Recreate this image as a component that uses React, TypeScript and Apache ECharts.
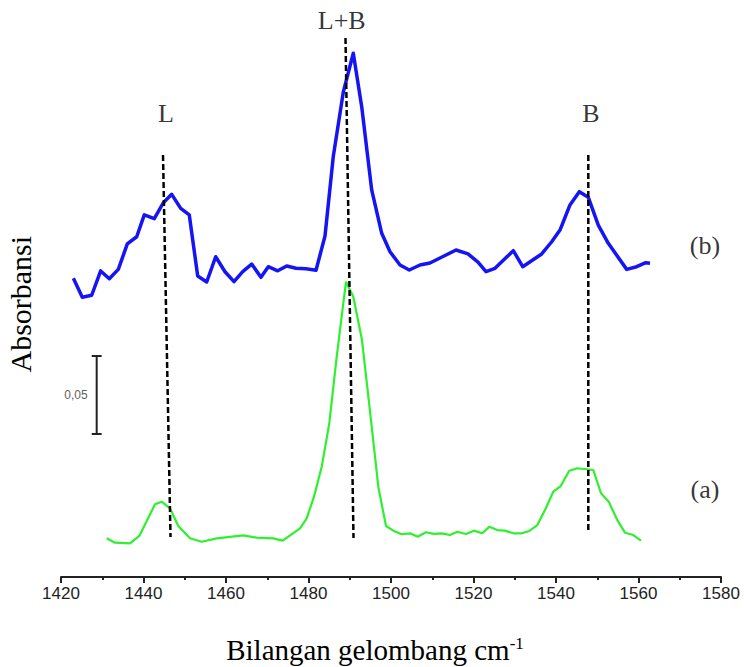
import React, { useEffect, useRef } from "react";
import * as echarts from "echarts";

// Curve (b) – blue
const wavenumberB = [
  1423.0, 1425.16, 1427.44, 1429.62, 1431.71, 1433.89, 1436.07, 1438.35, 1440.19, 1442.62,
  1444.8, 1446.84, 1449.02, 1451.1, 1453.14, 1455.32, 1457.5, 1459.76, 1461.94, 1464.05,
  1466.23, 1468.48, 1470.25, 1472.53, 1474.72, 1476.97, 1479.39, 1481.82, 1484.0, 1486.0,
  1488.44, 1490.86, 1492.9, 1495.32, 1497.75, 1499.76, 1502.18, 1504.44, 1507.03, 1509.45,
  1512.36, 1515.76, 1518.67, 1521.09, 1523.03, 1525.21, 1529.65, 1531.93, 1536.53, 1538.96,
  1540.97, 1543.39, 1545.65, 1547.83, 1550.25, 1552.68, 1557.14, 1559.56, 1561.75, 1562.79,
];
const absorbanceB = [
  0.1915, 0.1793, 0.1806, 0.1962, 0.1912, 0.1972, 0.2135, 0.2181, 0.2321, 0.2297,
  0.2399, 0.2453, 0.2363, 0.2321, 0.1929, 0.1891, 0.2053, 0.1957, 0.1893, 0.1957,
  0.2006, 0.1921, 0.1989, 0.1963, 0.1994, 0.1979, 0.1976, 0.1966, 0.2186, 0.2694,
  0.3109, 0.3357, 0.3015, 0.2481, 0.2203, 0.2085, 0.2, 0.1968, 0.2, 0.2013,
  0.2051, 0.2096, 0.2071, 0.2019, 0.1957, 0.1979, 0.2092, 0.1989, 0.2071, 0.2149,
  0.2224, 0.2385, 0.247, 0.2434, 0.2256, 0.2139, 0.1972, 0.1989, 0.2015, 0.2011,
];

// Curve (a) – green
const wavenumberA = [
  1431.08, 1433.09, 1436.73, 1438.98, 1442.79, 1444.41, 1446.42, 1448.44, 1451.27, 1454.11,
  1457.75, 1464.19, 1467.44, 1471.47, 1473.75, 1477.94, 1479.56, 1481.33, 1483.2, 1485.04,
  1486.84, 1489.09, 1490.86, 1492.97, 1495.15, 1496.92, 1498.79, 1500.56, 1502.59, 1504.61,
  1506.47, 1508.48, 1510.42, 1512.29, 1514.3, 1516.07, 1518.18, 1520.12, 1522.13, 1523.83,
  1525.77, 1527.64, 1529.65, 1531.68, 1533.53, 1535.47, 1537.33, 1539.35, 1541.14, 1543.22,
  1545.16, 1549.04, 1550.91, 1552.78, 1554.86, 1556.73, 1558.74, 1560.61,
];
const absorbanceA = [
  0.0248, 0.022, 0.0216, 0.0263, 0.0466, 0.0483, 0.044, 0.0327, 0.0248, 0.0226,
  0.0248, 0.0267, 0.0252, 0.0248, 0.0233, 0.0312, 0.0376, 0.0515, 0.0707, 0.0985,
  0.1412, 0.1893, 0.1797, 0.1519, 0.1006, 0.0579, 0.0327, 0.0297, 0.0274, 0.028,
  0.0258, 0.0287, 0.0276, 0.028, 0.0269, 0.029, 0.0276, 0.0297, 0.028, 0.0322,
  0.0301, 0.0297, 0.028, 0.028, 0.0295, 0.0333, 0.0429, 0.0547, 0.0583, 0.0681,
  0.0697, 0.0686, 0.0537, 0.0483, 0.0365, 0.0284, 0.0269, 0.0233,
];

// Peak marker lines (dashed)
const peakNames = ["L", "L+B", "B"];
const peakTopX = [1444.73, 1488.97, 1547.83];
const peakTopY = [0.2705, 0.3455, 0.2705];
const peakBottomX = [1446.55, 1490.91, 1547.83];
const peakBottomY = [0.0256, 0.025, 0.0288];
const peakLabelX = [1445.45, 1488.05, 1548.48];
const peakLabelY = [0.2974, 0.357, 0.2974];

// Curve names
const curveNames = ["(b)", "(a)"];
const curveLabelX = [1576.1, 1576.1];
const curveLabelY = [0.2122, 0.0558];

// Scale bar (0,05 absorbance)
const scaleBarLabel = "0,05";
const scaleBarX = 1428.65;
const scaleBarLow = 0.0917;
const scaleBarHigh = 0.1417;
const scaleBarCapHalf = 1.2;

// Axis
const xMin = 1420;
const xMax = 1580;
const xInterval = 20;
const yMin = 0;
const yMax = 0.36;

const zip = (xs: number[], ys: number[]) => xs.map((x, i) => [x, ys[i]]);

export default function App() {
  const ref = useRef<HTMLDivElement>(null);

  useEffect(() => {
    if (!ref.current) return;
    const chart = echarts.init(ref.current, null, { renderer: "svg" });

    const dashedSeries = peakNames.map((name, i) => ({
      name: "peak-" + name,
      type: "line",
      data: [
        [peakTopX[i], peakTopY[i]],
        [peakBottomX[i], peakBottomY[i]],
      ],
      showSymbol: false,
      symbol: "none",
      silent: true,
      z: 5,
      lineStyle: { color: "#000", width: 2.5, type: [6, 3] },
    }));

    const bx = scaleBarX;
    const capL = bx - scaleBarCapHalf;
    const capR = bx + scaleBarCapHalf;

    const serif = "'Liberation Serif', 'Times New Roman', serif";

    chart.setOption({
      animation: false,
      backgroundColor: "#fff",
      grid: {
        left: 61,
        right: 23,
        top: 15.4,
        bottom: 90,
        containLabel: false,
        outerBoundsMode: "none",
      },
      xAxis: {
        type: "value",
        min: xMin,
        max: xMax,
        interval: xInterval,
        name: "{a|Bilangan gelombang cm}{s|-1}",
        nameLocation: "middle",
        nameGap: 58,
        nameTextStyle: {
          padding: [0, 32, 0, 0],
          rich: {
            a: { fontFamily: serif, fontSize: 29, color: "#000" },
            s: { fontFamily: serif, fontSize: 17, color: "#000", verticalAlign: "top" },
          },
        },
        axisLine: { show: true, onZero: false, lineStyle: { color: "#222", width: 2 } },
        axisTick: { show: true, length: 6, lineStyle: { color: "#222", width: 2 } },
        minorTick: { show: true, splitNumber: 2, length: 3, lineStyle: { color: "#222", width: 2 } },
        axisLabel: {
          color: "#222",
          fontSize: 17,
          fontFamily: "'Liberation Sans', Arial, sans-serif",
          margin: 8,
          formatter: (v: number) => String(v),
        },
        splitLine: { show: false },
        minorSplitLine: { show: false },
      },
      yAxis: {
        type: "value",
        min: yMin,
        max: yMax,
        name: "Absorbansi",
        nameLocation: "middle",
        nameGap: 26,
        nameTextStyle: {
          fontFamily: serif,
          fontSize: 30,
          color: "#000",
          padding: [0, 16, 0, 0],
        },
        axisLine: { show: false },
        axisTick: { show: false },
        axisLabel: { show: false },
        splitLine: { show: false },
      },
      series: [
        {
          name: "(b)",
          type: "line",
          data: zip(wavenumberB, absorbanceB),
          showSymbol: false,
          symbol: "none",
          lineStyle: { color: "#1414f5", width: 3.5, join: "round" },
          z: 3,
        },
        {
          name: "(a)",
          type: "line",
          data: zip(wavenumberA, absorbanceA),
          showSymbol: false,
          symbol: "none",
          lineStyle: { color: "#2ef02e", width: 2.2 },
          z: 3,
        },
        ...dashedSeries,
        {
          name: "scale-bar",
          type: "line",
          data: [
            [capL, scaleBarHigh],
            [capR, scaleBarHigh],
            [bx, scaleBarHigh],
            [bx, scaleBarLow],
            [capL, scaleBarLow],
            [capR, scaleBarLow],
          ],
          showSymbol: false,
          symbol: "none",
          silent: true,
          lineStyle: { color: "#222", width: 2 },
        },
        {
          name: "scale-label",
          type: "scatter",
          symbolSize: 0,
          silent: true,
          data: [[bx, (scaleBarLow + scaleBarHigh) / 2]],
          label: {
            show: true,
            position: "left",
            distance: 9,
            formatter: scaleBarLabel,
            color: "#333",
            fontSize: 12,
            fontFamily: "'Liberation Sans', Arial, sans-serif",
          },
        },
        {
          name: "peak-labels",
          type: "scatter",
          symbolSize: 0,
          silent: true,
          data: peakNames.map((n, i) => ({ value: [peakLabelX[i], peakLabelY[i]], name: n })),
          label: {
            show: true,
            position: "inside",
            formatter: (p: any) => p.name,
            color: "#000",
            fontSize: 26,
            fontFamily: serif,
          },
        },
        {
          name: "curve-labels",
          type: "scatter",
          symbolSize: 0,
          silent: true,
          data: curveNames.map((n, i) => ({ value: [curveLabelX[i], curveLabelY[i]], name: n })),
          label: {
            show: true,
            position: "inside",
            formatter: (p: any) => p.name,
            color: "#000",
            fontSize: 26,
            fontFamily: serif,
          },
        },
      ],
    });

    return () => chart.dispose();
  }, []);

  return (
    <div
      ref={ref}
      style={{ position: "fixed", left: 0, top: 0, width: 744, height: 667, background: "#fff" }}
    />
  );
}
